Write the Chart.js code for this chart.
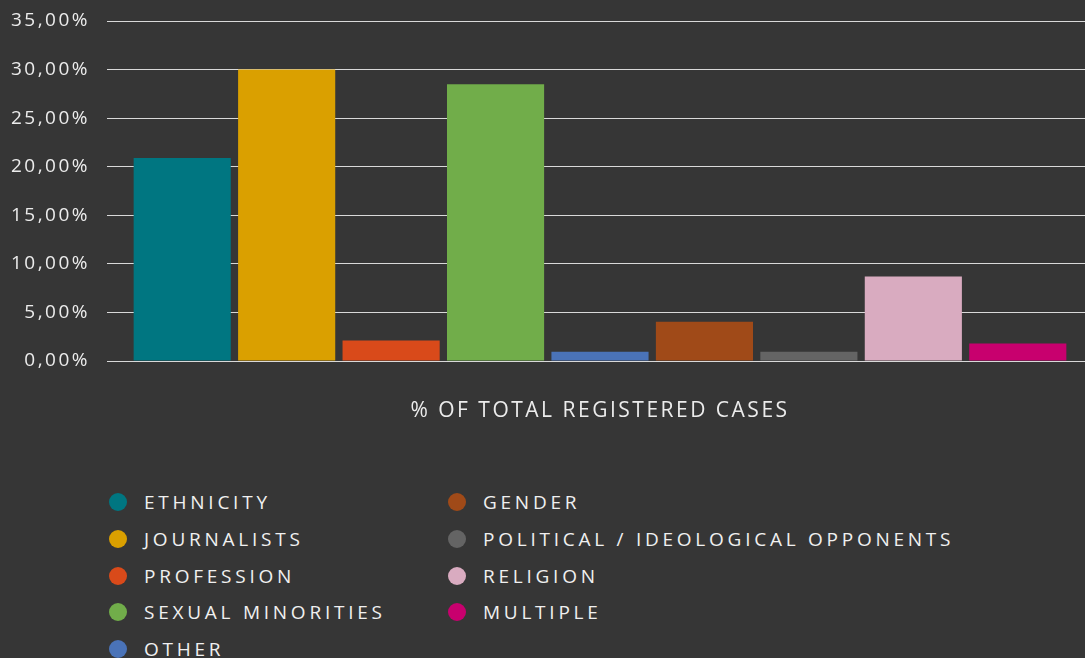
<!DOCTYPE html>
<html>
<head>
<meta charset="utf-8">
<script src="https://cdn.jsdelivr.net/npm/chart.js@4.4.0/dist/chart.umd.min.js"></script>
<style>
  html, body { margin: 0; padding: 0; background: #363636; }
  body { width: 1085px; height: 658px; overflow: hidden; position: relative; font-family: 'Open Sans', sans-serif; }
  #wrap { position: absolute; left: 0; top: 0; width: 1085px; height: 440px; }
  #legend {
    position: absolute; left: 109px; top: 484px;
    display: grid; grid-template-columns: 339px auto;
    grid-template-rows: repeat(5, 36.7px); grid-auto-flow: column;
  }
  .item { display: flex; align-items: center; color: #f0f0f0; font-size: 19px; letter-spacing: 3.75px; white-space: nowrap; }
  .dot { width: 18px; height: 18px; border-radius: 50%; margin-right: 17px; flex: none; }
</style>
</head>
<body>
<div id="wrap"><canvas id="casesChart" width="1085" height="440"></canvas></div>
<div id="legend"></div>
<script>
const categories = ['ETHNICITY', 'JOURNALISTS', 'PROFESSION', 'SEXUAL MINORITIES', 'OTHER',
  'GENDER', 'POLITICAL / IDEOLOGICAL OPPONENTS', 'RELIGION', 'MULTIPLE'];
const shares = [20.9, 30.0, 2.1, 28.5, 0.95, 4.05, 0.95, 8.7, 1.8];
const colors = ['#007681', '#daa000', '#d94a1a', '#71ad4a', '#4a73b8', '#a04a18', '#646464', '#d9abc0', '#c8006e'];
const yTicks = { min: 0, max: 35, step: 5 };

const gridColor = '#d9d9d9';
const textColor = '#ececec';

// canvas text needs some tracking to look like the original
const spacing = {
  id: 'spacing',
  beforeDraw(chart) { chart.ctx.letterSpacing = '2.5px'; }
};

new Chart(document.getElementById('casesChart').getContext('2d'), {
  type: 'bar',
  data: {
    labels: categories,
    datasets: [{
      label: '% of total registered cases',
      data: shares,
      backgroundColor: colors,
      borderWidth: 0,
      categoryPercentage: 1,
      barPercentage: 0.93,
      yAxisID: 'y'
    }]
  },
  options: {
    responsive: false,
    animation: false,
    layout: { padding: { top: 21, left: 0, right: 0, bottom: 0 } },
    plugins: {
      legend: { display: false },
      tooltip: { enabled: false }
    },
    scales: {
      x: {
        offset: true,
        grid: { display: false },
        border: { display: false },
        ticks: { display: false },
        title: {
          display: true,
          text: '% OF TOTAL REGISTERED CASES',
          color: textColor,
          font: { family: "'Open Sans'", size: 21 },
          padding: { top: 0, bottom: 16 }
        },
        afterFit: s => { s.height = 79; }
      },
      y: {
        min: yTicks.min,
        max: yTicks.max,
        ticks: {
          stepSize: yTicks.step,
          padding: 17,
          color: textColor,
          font: { family: "'Open Sans'", size: 19 },
          callback: v => v.toFixed(2).replace('.', ',') + '%'
        },
        grid: { color: gridColor, tickColor: gridColor, tickLength: 23 },
        border: { display: false },
        // fixed width, and no extra room above the top label
        afterFit: s => { s.width = 130; s.paddingTop = 0; s.paddingBottom = 0; }
      },
      y2: {
        position: 'right',
        min: yTicks.min,
        max: yTicks.max,
        ticks: { display: false, stepSize: yTicks.step },
        grid: { color: gridColor, tickColor: gridColor, tickLength: 15, drawOnChartArea: false },
        border: { display: false },
        afterFit: s => { s.width = 15; s.paddingTop = 0; s.paddingBottom = 0; }
      }
    }
  },
  plugins: [spacing]
});

// legend in two columns, filled top to bottom
const legend = document.getElementById('legend');
categories.forEach((name, i) => {
  const item = document.createElement('div');
  item.className = 'item';
  const dot = document.createElement('span');
  dot.className = 'dot';
  dot.style.background = colors[i];
  const label = document.createElement('span');
  label.textContent = name;
  item.appendChild(dot);
  item.appendChild(label);
  legend.appendChild(item);
});
</script>
</body>
</html>
